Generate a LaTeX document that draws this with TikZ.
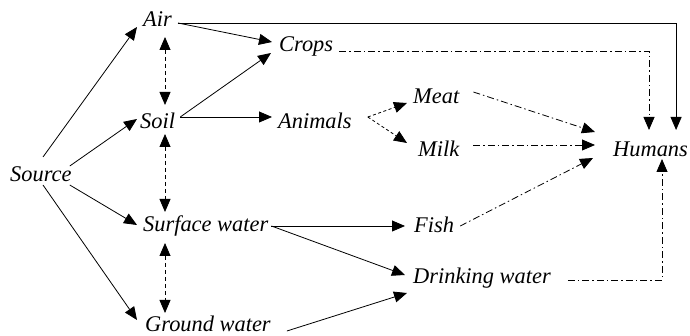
\documentclass[tikz,border=0pt]{standalone}
\usepackage{fontspec}
\setmainfont{Liberation Serif}
\usetikzlibrary{arrows.meta}
\begin{document}
\begin{tikzpicture}[x=1pt,y=-1pt,
  lbl/.style={inner sep=0pt,anchor=base west,font=\fontsize{22.4}{26}\selectfont\itshape},
  link/.style={line width=0.8pt,-{Triangle[length=13pt,width=11pt]}},
  twoway/.style={line width=0.8pt,{Triangle[length=13pt,width=11pt]}-{Triangle[length=13pt,width=11pt]},dash pattern=on 4pt off 3pt},
  feed/.style={line width=0.8pt,-{Triangle[length=13pt,width=11pt]},dash pattern=on 3pt off 2.5pt},
  intake/.style={line width=0.8pt,-{Triangle[length=13pt,width=11pt]},dash pattern=on 7pt off 3pt on 1.5pt off 3pt}]
\useasboundingbox (0,0) rectangle (690,336);

% compartments and pathways
\node[lbl] (src)   at (10,182)  {Source};
\node[lbl] (air)   at (143,27)  {Air};
\node[lbl] (soil)  at (140,129) {Soil};
\node[lbl] (surf)  at (143,232) {Surface water};
\node[lbl] (gw)    at (145,331) {Ground water};
\node[lbl] (crops) at (279,52)  {Crops};
\node[lbl] (anim)  at (278,129) {Animals};
\node[lbl] (meat)  at (413,104) {Meat};
\node[lbl] (milk)  at (418,157) {Milk};
\node[lbl] (fish)  at (414,233) {Fish};
\node[lbl] (drink) at (413,284) {Drinking water};
\node[lbl] (hum)   at (613,157) {Humans};

% release from the source
\draw[link] ([shift={(33,-25)}]src.base west) -- ([shift={(-6,0)}]air.base west);
\draw[link] ([shift={(-2,-16)}]src.base east) -- ([shift={(-3,-10)}]soil.base west);
\draw[link] ([shift={(-2,3)}]src.base east) -- ([shift={(-6,-7)}]surf.base west);
\draw[link] ([shift={(33,3)}]src.base west) -- ([shift={(-8,-11)}]gw.base west);

% exchange between media
\draw[twoway] ([shift={(22,10)}]air.base west) -- ([shift={(25,-24)}]soil.base west);
\draw[twoway] ([shift={(25,5)}]soil.base west) -- ([shift={(22,-20)}]surf.base west);
\draw[twoway] ([shift={(22,11)}]surf.base west) -- ([shift={(20,-18)}]gw.base west);

% transfer into the food chain
\draw[link] ([shift={(6,-4)}]air.base east) -- ([shift={(-7,-10)}]crops.base west);
\draw[link] ([shift={(6,-4)}]air.base east) -| ([shift={(-12,-27)}]hum.base east);
\draw[link] ([shift={(5,-12)}]soil.base east) -- ([shift={(-8,1)}]crops.base west);
\draw[link] ([shift={(5,-12)}]soil.base east) -- ([shift={(-6,-12)}]anim.base west);
\draw[link] ([shift={(3,-6)}]surf.base east) -- ([shift={(-9,-7)}]fish.base west);
\draw[link] ([shift={(3,-6)}]surf.base east) -- ([shift={(-8,-9)}]drink.base west);
\draw[link] ([shift={(16,0)}]gw.base east) -- ([shift={(-6,9)}]drink.base west);
\draw[feed] ([shift={(16,-12)}]anim.base east) -- ([shift={(-6,-1)}]meat.base west);
\draw[feed] ([shift={(16,-12)}]anim.base east) -- ([shift={(-11,-14)}]milk.base west);

% human intake
\draw[intake] ([shift={(6,-1)}]crops.base east) -| ([shift={(36,-27)}]hum.base west);
\draw[intake] ([shift={(14,-12)}]meat.base east) -- ([shift={(-18,-25)}]hum.base west);
\draw[intake] ([shift={(14,-12)}]milk.base east) -- ([shift={(-18,-12)}]hum.base west);
\draw[intake] ([shift={(6,-7)}]fish.base east) -- ([shift={(-20,1)}]hum.base west);
\draw[intake] ([shift={(17,-4)}]drink.base east) -| ([shift={(49,2)}]hum.base west);
\end{tikzpicture}
\end{document}
